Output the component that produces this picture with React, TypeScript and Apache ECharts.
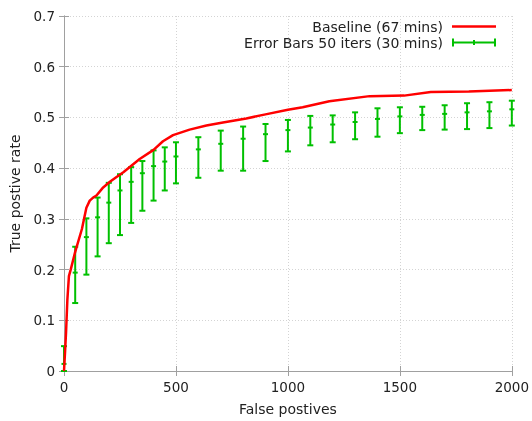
import React, { useEffect, useRef } from "react";
import * as echarts from "echarts";

const baselineFp = [0, 5, 9, 15, 22, 30, 50, 80, 100, 115, 130, 145, 175, 205, 230, 265, 338, 400, 442, 487, 561, 636, 710, 814, 900, 1000, 1066, 1185, 1365, 1519, 1638, 1808, 2000];
const baselineTp = [0, 0.04, 0.075, 0.14, 0.187, 0.2, 0.235, 0.28, 0.322, 0.336, 0.342, 0.346, 0.362, 0.373, 0.381, 0.392, 0.418, 0.436, 0.453, 0.465, 0.476, 0.484, 0.49, 0.498, 0.506, 0.515, 0.52, 0.532, 0.542, 0.543, 0.55, 0.551, 0.554];

const barFp = [0, 50, 100, 150, 200, 250, 300, 350, 400, 450, 500, 600, 700, 800, 900, 1000, 1100, 1200, 1300, 1400, 1500, 1600, 1700, 1800, 1900, 2000];
const barMid = [0.014, 0.194, 0.264, 0.303, 0.332, 0.356, 0.373, 0.39, 0.404, 0.413, 0.423, 0.437, 0.448, 0.458, 0.467, 0.475, 0.48, 0.486, 0.491, 0.497, 0.502, 0.505, 0.507, 0.51, 0.512, 0.516];
const barLow = [0, 0.134, 0.19, 0.226, 0.252, 0.268, 0.292, 0.316, 0.336, 0.356, 0.37, 0.381, 0.395, 0.395, 0.414, 0.433, 0.445, 0.451, 0.457, 0.462, 0.469, 0.475, 0.476, 0.477, 0.479, 0.484];
const barHigh = [0.049, 0.245, 0.301, 0.342, 0.371, 0.388, 0.402, 0.414, 0.435, 0.441, 0.451, 0.461, 0.474, 0.482, 0.487, 0.495, 0.503, 0.504, 0.51, 0.518, 0.52, 0.521, 0.524, 0.528, 0.53, 0.533];

const seriesNames = ["Baseline (67 mins)", "Error Bars 50 iters (30 mins)"];
const xTitle = "False postives";
const yTitle = "True postive rate";

const RED = "#ff0000";
const GREEN = "#00c000";
const AXIS = "#a0a0a0";
const GRIDC = "#d4d4d4";
const TEXT = "#222222";
const FONT = "DejaVu Sans";
const FS = 14;

export default function App() {
  const ref = useRef<HTMLDivElement>(null);
  useEffect(() => {
    if (!ref.current) return;
    const chart = echarts.init(ref.current, undefined, { renderer: "svg" });
    const baseline = baselineFp.map((x, i) => [x, baselineTp[i]]);
    const bars = barFp.map((x, i) => [x, barLow[i], barMid[i], barHigh[i]]);
    const axisCommon = {
      axisLine: { show: true, lineStyle: { color: AXIS, width: 1 } },
      axisTick: { show: true, inside: true, length: 5, lineStyle: { color: AXIS } },
    };
    chart.setOption({
      animation: false,
      grid: { left: 64, right: 19, top: 16, bottom: 45, containLabel: false },
      legend: {
        right: 31,
        top: 14,
        orient: "vertical",
        align: "right",
        itemWidth: 44,
        itemHeight: 8,
        itemGap: 1,
        textStyle: { fontFamily: FONT, fontSize: FS, lineHeight: 15, color: TEXT, padding: [0, 4, 0, 0] },
        data: [
          { name: seriesNames[0], icon: "path://M0,0H44V2.5H0Z" },
          {
            name: seriesNames[1],
            icon: "path://M0,0H2V8H0Z M42,0H44V8H42Z M2,3H42V5H2Z M21,1.5H23V6.5H21Z",
          },
        ],
      },
      xAxis: [
        {
          type: "value",
          min: 0,
          max: 2000,
          interval: 500,
          name: xTitle,
          nameLocation: "middle",
          nameGap: 31,
          nameTextStyle: { fontFamily: FONT, fontSize: FS, color: TEXT },
          ...axisCommon,
          axisLabel: { fontFamily: FONT, fontSize: 13.5, color: TEXT, margin: 9, formatter: (v: number) => String(v) },
          splitLine: { show: true, lineStyle: { color: GRIDC, type: [1, 2], width: 1 } },
        },
        {
          type: "value",
          position: "top",
          min: 0,
          max: 2000,
          interval: 500,
          ...axisCommon,
          axisLabel: { show: false },
          splitLine: { show: false },
        },
      ],
      yAxis: [
        {
          type: "value",
          min: 0,
          max: 0.7,
          interval: 0.1,
          name: yTitle,
          nameLocation: "middle",
          nameGap: 42,
          nameTextStyle: { fontFamily: FONT, fontSize: FS, color: TEXT },
          ...axisCommon,
          axisLabel: {
            fontFamily: FONT,
            fontSize: 13.5,
            color: TEXT,
            margin: 9,
            formatter: (v: number) => (v === 0 ? "0" : v.toFixed(1)),
          },
          splitLine: { show: true, lineStyle: { color: GRIDC, type: [1, 2], width: 1 } },
        },
        {
          type: "value",
          position: "right",
          min: 0,
          max: 0.7,
          interval: 0.1,
          ...axisCommon,
          axisLabel: { show: false },
          splitLine: { show: false },
        },
      ],
      series: [
        {
          name: seriesNames[0],
          type: "line",
          data: baseline,
          showSymbol: false,
          symbol: "none",
          color: RED,
          lineStyle: { color: RED, width: 2.5 },
          z: 3,
        },
        {
          name: seriesNames[1],
          type: "custom",
          data: bars,
          clip: false,
          color: GREEN,
          itemStyle: { color: GREEN },
          z: 2,
          renderItem: (params: any, api: any) => {
            const x = api.value(0);
            const lo = api.coord([x, api.value(1)]);
            const md = api.coord([x, api.value(2)]);
            const hi = api.coord([x, api.value(3)]);
            const cw = 3;
            const mw = 2.5;
            const st = { stroke: GREEN, lineWidth: 2 };
            return {
              type: "group",
              children: [
                { type: "line", shape: { x1: hi[0], y1: hi[1], x2: lo[0], y2: lo[1] }, style: st },
                { type: "line", shape: { x1: hi[0] - cw, y1: hi[1], x2: hi[0] + cw, y2: hi[1] }, style: st },
                { type: "line", shape: { x1: lo[0] - cw, y1: lo[1], x2: lo[0] + cw, y2: lo[1] }, style: st },
                { type: "line", shape: { x1: md[0] - mw, y1: md[1], x2: md[0] + mw, y2: md[1] }, style: st },
              ],
            };
          },
        },
      ],
    });
    return () => chart.dispose();
  }, []);
  return <div ref={ref} style={{ position: "fixed", left: 0, top: 0, width: 532, height: 421 }} />;
}
